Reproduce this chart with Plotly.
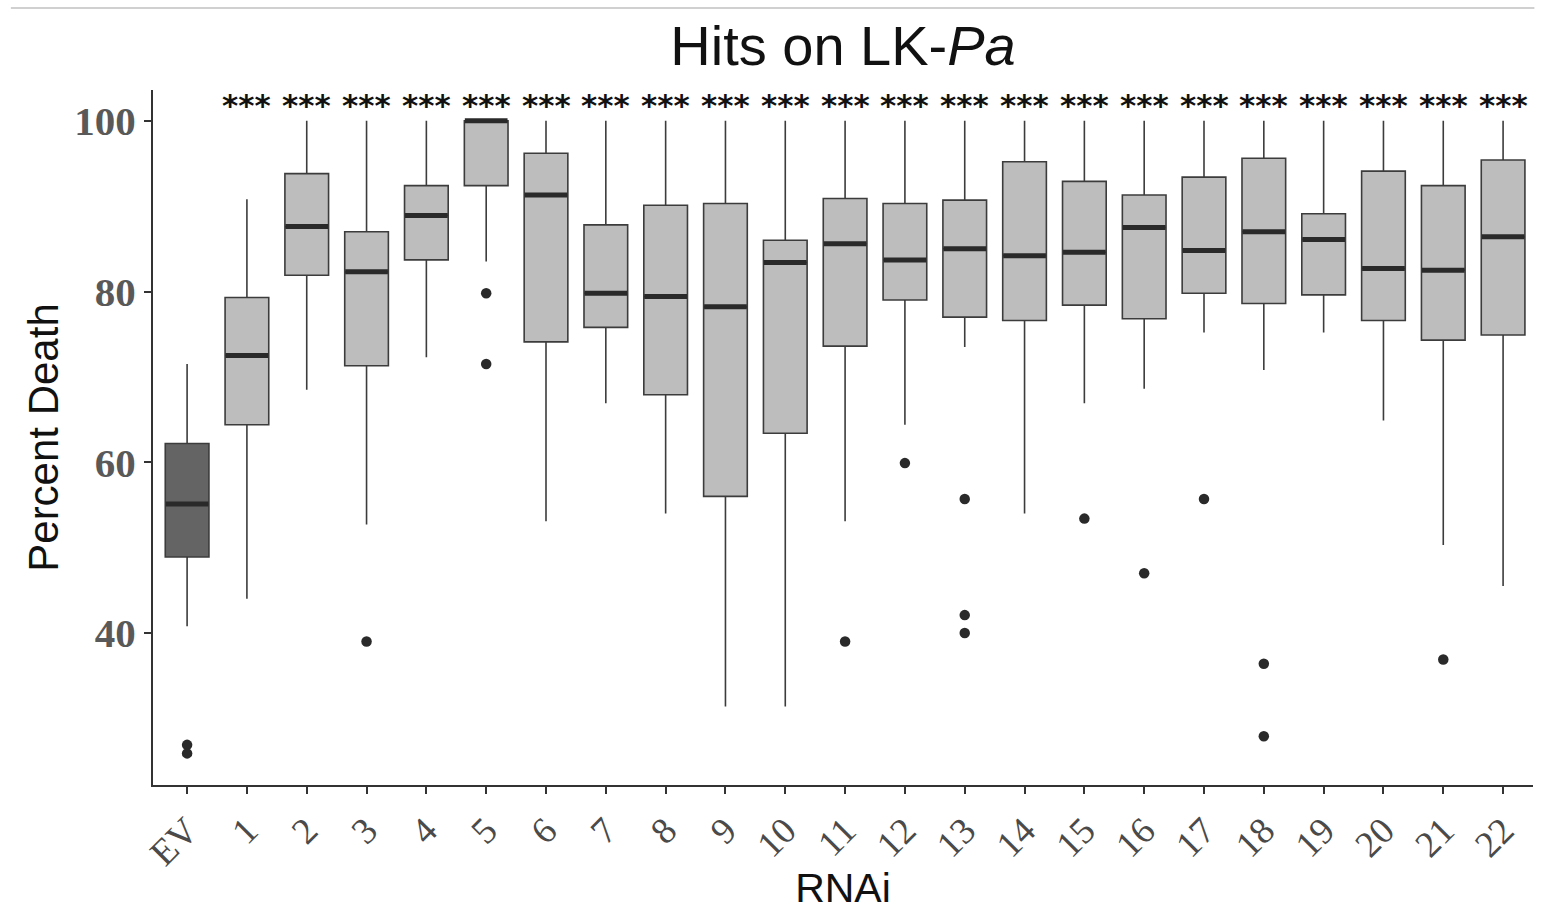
import plotly.graph_objects as go

categories = ["EV"] + [str(i) for i in range(1, 23)]
upper_whisker = [71.5, 90.8, 100, 100, 100, 100, 100, 100, 100, 100, 100, 100,
                 100, 100, 100, 100, 100, 100, 100, 100, 100, 100, 100]
q3_values = [62.2, 79.3, 93.8, 87.0, 92.4, 100, 96.2, 87.8, 90.1, 90.3, 86.0, 90.9,
             90.3, 90.7, 95.2, 92.9, 91.3, 93.4, 95.6, 89.1, 94.1, 92.4, 95.4]
median_values = [55.1, 72.5, 87.6, 82.3, 88.9, 100, 91.3, 79.8, 79.4, 78.2, 83.4, 85.6,
                 83.7, 85.0, 84.2, 84.6, 87.5, 84.8, 87.0, 86.1, 82.7, 82.5, 86.4]
q1_values = [48.9, 64.4, 81.9, 71.3, 83.7, 92.4, 74.1, 75.8, 67.9, 56.0, 63.4, 73.6,
             79.0, 77.0, 76.6, 78.4, 76.8, 79.8, 78.6, 79.6, 76.6, 74.3, 74.9]
lower_whisker = [40.8, 44.0, 68.5, 52.7, 72.3, 83.5, 53.1, 66.9, 54.0, 31.4, 31.4, 53.1,
                 64.4, 73.5, 54.0, 66.9, 68.6, 75.2, 70.8, 75.2, 64.9, 50.3, 45.5]

outlier_x = ["EV", "EV", "3", "5", "5", "11", "12", "13", "13", "13",
             "15", "16", "17", "18", "18", "21"]
outlier_y = [26.9, 25.9, 39.0, 79.8, 71.5, 39.0, 59.9, 55.7, 42.1, 40.0,
             53.4, 47.0, 55.7, 36.4, 27.9, 36.9]

significance = [""] + ["***"] * 22
y_ticks = [40, 60, 80, 100]

fig = go.Figure()

ctrl = [0]
hits = list(range(1, 23))
for idxs, fill in [(ctrl, "#646464"), (hits, "#bdbdbd")]:
    fig.add_trace(go.Box(
        x=[categories[i] for i in idxs],
        q1=[q1_values[i] for i in idxs],
        median=[median_values[i] for i in idxs],
        q3=[q3_values[i] for i in idxs],
        lowerfence=[lower_whisker[i] for i in idxs],
        upperfence=[upper_whisker[i] for i in idxs],
        fillcolor=fill,
        line=dict(color="#3c3c3c", width=1.6),
        whiskerwidth=0,
        width=0.73,
        boxpoints=False,
        showlegend=False,
    ))

# thick median bars (line-ew marker spans 1.4 * size px)
fig.add_trace(go.Scatter(
    x=categories, y=median_values, mode="markers",
    marker=dict(symbol="line-ew", size=30.5, color="#2a2a2a",
                line=dict(width=5, color="#2a2a2a")),
    showlegend=False, hoverinfo="skip",
))

# outliers
fig.add_trace(go.Scatter(
    x=outlier_x, y=outlier_y, mode="markers",
    marker=dict(symbol="circle", size=10.5, color="#2a2a2a"),
    showlegend=False,
))

for cat, sig in zip(categories, significance):
    if sig:
        fig.add_annotation(x=cat, y=101.9, text=sig, showarrow=False,
                           xref="x", yref="y", yanchor="middle",
                           font=dict(family="DejaVu Sans", size=31, color="#111111",
                                     weight="bold"))

fig.add_shape(type="line", xref="paper", yref="paper", x0=-0.103, x1=1.001,
              y0=1.118, y1=1.118, line=dict(color="#d0d0d0", width=2))

fig.update_layout(
    width=1550, height=923,
    margin=dict(l=153, r=17, t=90, b=138),
    paper_bgcolor="white", plot_bgcolor="white",
    title=dict(text="Hits on LK-<i>Pa</i>", x=0.5, xref="paper", y=0.951, yanchor="middle",
               font=dict(family="Liberation Sans, Arial", size=56, color="#111111")),
    boxmode="overlay",
)
fig.update_xaxes(
    type="category", categoryorder="array", categoryarray=categories,
    range=[-0.57, 22.5],
    showline=True, linecolor="#333333", linewidth=2,
    ticks="outside", ticklen=7, tickcolor="#333333", tickwidth=1.5,
    tickangle=-45,
    tickfont=dict(family="Liberation Serif, DejaVu Serif", size=37, color="#4a4a4a"),
    showgrid=False, zeroline=False,
    title=dict(text="RNAi", standoff=0,
               font=dict(family="Liberation Sans, Arial", size=41, color="#111111")),
)
fig.update_yaxes(
    range=[22.2, 103.6],
    tickvals=y_ticks,
    showline=True, linecolor="#333333", linewidth=2,
    ticks="outside", ticklen=7, tickcolor="#333333", tickwidth=1.5,
    tickfont=dict(family="Liberation Serif, DejaVu Serif", size=41, color="#595959", weight="bold"),
    showgrid=False, zeroline=False,
    title=dict(text="Percent Death", standoff=3,
               font=dict(family="Liberation Sans, Arial", size=42, color="#111111")),
)

fig.write_html("out.html")
